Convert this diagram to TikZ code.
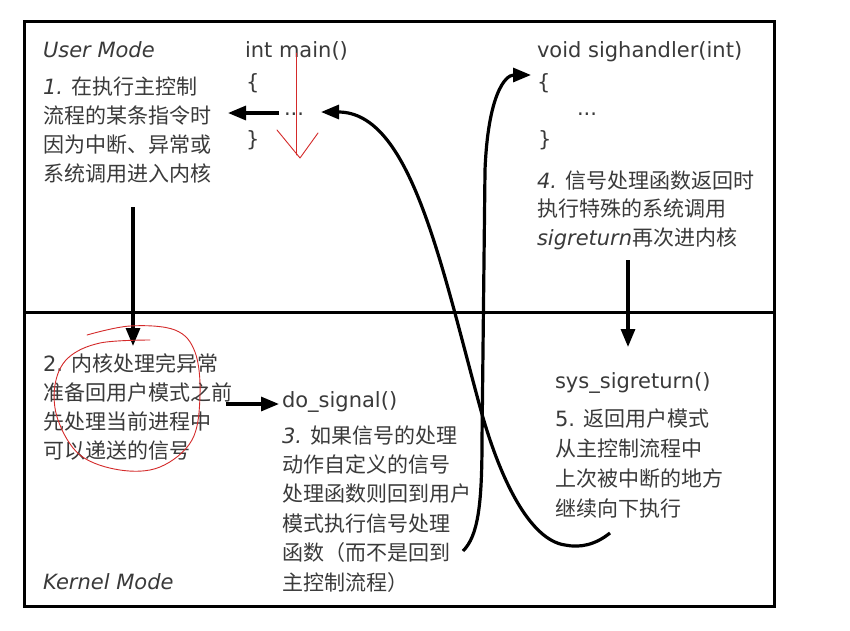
\documentclass[tikz,border=0pt]{standalone}
\usepackage{fontspec}
\setmainfont{DejaVu Sans}
\newfontfamily\cjk{Noto Sans CJK SC}
\usetikzlibrary{arrows.meta}
\definecolor{textgray}{HTML}{3A3A3A}
\definecolor{annred}{HTML}{D42A2A}
\begin{document}
\begin{tikzpicture}[x=1pt,y=-1pt,
  txt/.style={inner sep=0pt, outer sep=0pt, anchor=base west, text=textgray, font=\fontsize{21}{29}\selectfont},
  blk/.style={txt, align=left, font=\fontsize{21}{#1}\selectfont},
  blk/.default=29,
  conn/.style={line width=3.2pt, -{Triangle[length=18pt,width=14pt]}},
  frame/.style={line width=3pt},
  annot/.style={draw=annred, line width=0.9pt, line cap=round, line join=round}]
\fill[white] (0,0) rectangle (850,630);
\useasboundingbox (0,0) rectangle (850,630);

% frame and mode divider
\draw[frame] (24,21) rectangle (774,606);
\draw[frame] (24,312) -- (774,312);

% user mode texts (multi-line blocks are placed by the baseline of their last line)
\node[txt] (um) at (43,57) {\itshape User Mode};
\node[txt] (main) at (245,57) {int main()};
\node[txt] (mlb) at (246,89) {\{};
\node[txt] (mdots) at (284,115) {...};
\node[txt] (mrb) at (246,146) {\}};
\node[blk=28.7] (t1) at (43,181) {{\itshape 1.} {\cjk 在执行主控制}\\{\cjk 流程的某条指令时}\\{\cjk 因为中断、异常或}\\{\cjk 系统调用进入内核}};

\node[txt] (sh) at (537,57) {void sighandler(int)};
\node[txt] (slb) at (537,89) {\{};
\node[txt] (sdots) at (577,115) {...};
\node[txt] (srb) at (538,146) {\}};
\node[blk=28.5] (t4) at (537,245) {{\itshape 4.} {\cjk 信号处理函数返回时}\\{\cjk 执行特殊的系统调用}\\{\itshape sigreturn}{\cjk 再次进内核}};

% kernel mode texts
\node[blk=29] (t2) at (43,458) {2. {\cjk 内核处理完异常}\\{\cjk 准备回用户模式之前}\\{\cjk 先处理当前进程中}\\{\cjk 可以递送的信号}};
\node[txt] (ds) at (282,407) {do\_signal()};
\node[blk=29.4] (t3) at (282,590) {{\itshape 3.} {\cjk 如果信号的处理}\\{\cjk 动作自定义的信号}\\{\cjk 处理函数则回到用户}\\{\cjk 模式执行信号处理}\\{\cjk 函数（而不是回到}\\{\cjk 主控制流程）}};
\node[txt] (km) at (43,589) {\itshape Kernel Mode};

\node[txt] (sr) at (555,388) {sys\_sigreturn()};
\node[blk=30] (t5) at (555,516) {5. {\cjk 返回用户模式}\\{\cjk 从主控制流程中}\\{\cjk 上次被中断的地方}\\{\cjk 继续向下执行}};

% connector end points
\coordinate (m1s) at (279,113);
\coordinate (m1e) at (228,113);
\coordinate (d1s) at (133,207);
\coordinate (d1e) at (133,346);
\coordinate (g1s) at (226,404);
\coordinate (g1e) at (279,404);
\coordinate (d2s) at (628,260);
\coordinate (d2e) at (628,347);
\coordinate (hook) at (463,551);
\coordinate (hin) at (531,75);
\coordinate (rout) at (610,533);
\coordinate (rin) at (321,112);

% straight connectors
\draw[conn] (m1s) -- (m1e);
\draw[conn] (d1s) -- (d1e);
\draw[conn] (g1s) -- (g1e);
\draw[conn] (d2s) -- (d2e);

% curve: do_signal -> sighandler
\draw[conn] (hook) .. controls (478,536) and (482,505) .. (482,440)
  -- (485,170) .. controls (488,95) and (505,75) .. (hin);

% curve: sys_sigreturn -> main
\draw[conn] (rout) .. controls (595,545) and (580,548) .. (565,545)
  .. controls (530,540) and (500,480) .. (480,407)
  .. controls (440,260) and (410,112) .. (rin);

% red hand annotations
\draw[annot] (296,53) -- (296,155);
\draw[annot] (277,130) -- (300,158) -- (318,133);
\draw[annot] plot[smooth, tension=0.6] coordinates {(87,335) (130,326) (175,330) (195,352) (200,395) (192,440) (160,467) (120,470) (80,455) (58,420) (55,385) (68,358) (100,343) (150,340)};
\end{tikzpicture}
\end{document}
